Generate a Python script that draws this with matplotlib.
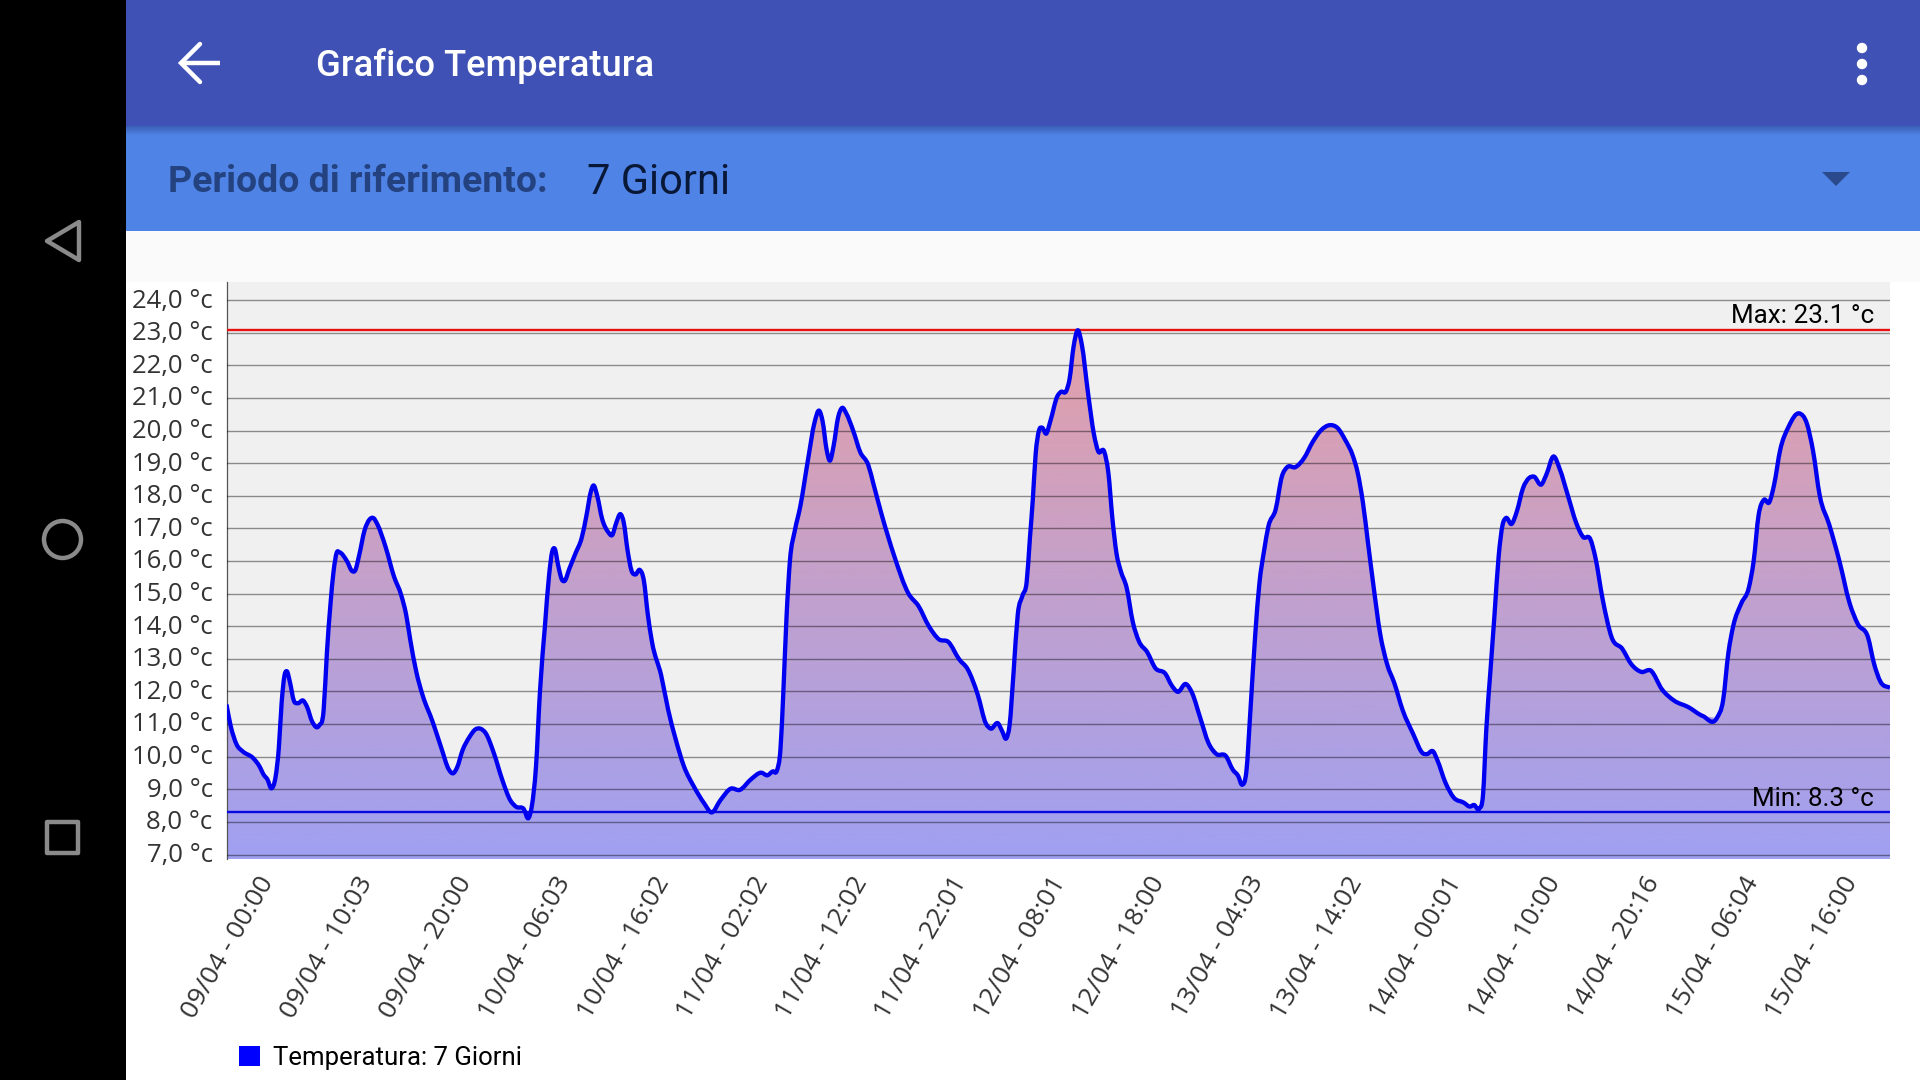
import numpy as np
import matplotlib
matplotlib.use('Agg')
import matplotlib.pyplot as plt
from matplotlib.patches import Rectangle, Polygon, Circle, Patch, PathPatch
from matplotlib.path import Path
from matplotlib.transforms import ScaledTranslation

# hours since 09/04 00:00
hours = [0, 0.41, 1.03, 1.65, 2.68, 3.3, 3.79, 4.12, 4.54, 4.95, 5.28, 5.57, 5.85, 6.1, 6.39, 6.8, 7.21, 7.75, 8.12, 8.66,
         9.36, 9.81, 10.14, 10.51, 10.8, 11.13, 11.42, 12.16, 12.7, 12.99, 13.4, 13.94, 14.43, 14.84, 15.25, 16.08, 16.9, 17.65, 18.14, 18.55,
         19.17, 19.79, 20.82, 21.65, 22.47, 22.88, 23.29, 23.83, 24.53, 25.15, 25.64, 26.18, 27.0, 27.83, 28.65, 29.27, 30.01, 30.51, 30.84, 31.25,
         31.66, 32.16, 32.57, 32.9, 33.15, 33.48, 33.89, 34.14, 34.63, 35.25, 35.87, 36.36, 36.78, 37.06, 37.44, 37.93, 38.55, 38.96, 39.37, 39.79,
         40.12, 40.49, 40.9, 41.31, 41.73, 42.14, 42.55, 42.96, 43.91, 44.61, 45.35, 46.18, 47.21, 48.24, 48.98,
         49.89, 50.92, 51.83, 52.98, 54.01, 54.63, 55.17, 55.58, 55.95, 56.24, 56.57, 56.9, 57.4, 57.93, 58.76, 59.37, 59.87, 60.2, 60.61, 60.94,
         61.31, 61.77, 62.18, 62.59, 63.29, 63.99, 64.82, 65.35, 66.18, 67.41, 68.86, 69.89, 70.92, 71.95, 72.9, 74.01, 74.84, 75.87, 76.69, 77.19,
         77.93, 78.34, 78.75, 79.08, 79.49, 79.91, 80.4, 80.81, 81.14, 81.43, 81.72, 82.05, 82.38, 82.79, 83.2, 83.9, 84.27, 84.81, 85.14, 85.55,
         85.97, 86.38, 87.0, 87.61, 88.03, 88.65, 89.06, 89.47, 89.88, 90.3, 90.91, 91.53, 92.15, 92.98, 93.8, 94.83, 95.45, 96.07, 96.89, 97.51,
         98.34, 99.16, 99.98, 100.93, 101.63, 102.17, 102.58, 103.0, 103.41, 103.9, 104.31, 104.81, 105.22, 105.96, 106.58, 107.12, 107.94, 108.85, 109.67, 110.5,
         111.44, 112.18, 113.01, 113.75, 114.24, 114.78, 115.27, 115.81, 116.51, 117.21, 117.95, 118.78, 119.81, 120.84, 121.25, 121.87, 122.28, 123.11, 123.93, 124.96,
         125.58, 125.99, 126.53, 126.9, 127.23, 127.64, 128.06, 128.47, 128.88, 129.21, 129.79, 130.32, 130.94, 131.56, 132.05, 132.8, 133.29, 134.03, 134.65, 135.48,
         136.3, 137.0, 137.74, 138.24, 138.98, 139.89, 140.96, 141.87, 142.9, 143.85, 144.96, 146.2, 147.64, 149.08, 150.52, 151.14, 151.68, 152.17, 152.99, 153.74,
         154.23, 154.73, 155.27, 155.8, 156.3, 156.91, 157.74, 158.85, 159.59, 160.21, 160.91, 161.86, 162.89, 163.92, 164.75, 165.78, 166.4, 167.02, 168]

temps = [11.6, 10.96, 10.37, 10.16, 9.96, 9.72, 9.43, 9.31, 9.03, 9.37, 10.25, 11.66, 12.48, 12.62, 12.31, 11.72, 11.64, 11.72, 11.54, 11.07,
         10.96, 11.43, 13.19, 14.71, 15.65, 16.26, 16.27, 16.0, 15.69, 15.71, 16.18, 16.94, 17.27, 17.32, 17.12, 16.42, 15.54, 14.95, 14.36, 13.6,
         12.6, 11.9, 11.07, 10.31, 9.6, 9.49, 9.67, 10.19, 10.6, 10.84, 10.86, 10.72, 10.11, 9.31, 8.67, 8.46, 8.4, 8.12, 8.49, 9.67,
         12.01, 14.01, 15.54, 16.3, 16.38, 15.89, 15.42, 15.39, 15.77, 16.24, 16.71, 17.41, 18.11, 18.32, 18.0, 17.3, 16.89, 16.8, 17.18, 17.44,
         17.18, 16.36, 15.71, 15.59, 15.73, 15.42, 14.36, 13.54, 12.48, 11.43, 10.55, 9.72, 9.08, 8.57, 8.29,
         8.67, 9.02, 8.98, 9.31, 9.51, 9.43, 9.55, 9.57, 10.25, 12.01, 14.36, 16.0, 16.94, 17.65, 19.17, 20.23, 20.61, 20.29, 19.41, 19.08,
         19.53, 20.41, 20.7, 20.53, 20.0, 19.35, 18.94, 18.35, 17.41, 16.18, 15.01, 14.62, 14.01, 13.6, 13.52, 12.98, 12.69, 11.9, 11.02, 10.86,
         11.02, 10.78, 10.56, 10.96, 12.6, 14.36, 14.95, 15.36, 16.71, 17.88, 19.29, 20.0, 20.09, 19.91, 20.29, 21.05, 21.19, 21.22, 21.58, 22.58,
         23.08, 22.64, 21.17, 19.88, 19.37, 19.35, 18.71, 17.3, 16.24, 15.71, 15.18, 14.13, 13.54, 13.21, 12.72, 12.54, 12.19, 11.99, 12.23, 11.96,
         11.19, 10.43, 10.08, 10.02, 9.6, 9.41, 9.14, 9.55, 11.43, 13.77, 15.3, 16.36, 17.06, 17.59, 18.59, 18.88, 18.88, 19.17, 19.64, 20.0,
         20.17, 20.09, 19.7, 19.23, 18.71, 17.77, 16.59, 15.3, 13.77, 12.84, 12.25, 11.43, 10.72, 10.1, 10.08, 10.16, 9.9, 9.2, 8.75, 8.59,
         8.47, 8.52, 8.41, 8.84, 10.84, 12.6, 14.36, 16.12, 17.12, 17.32, 17.14, 17.53, 18.24, 18.55, 18.59, 18.35, 18.65, 19.21, 18.82, 18.0,
         17.18, 16.74, 16.67, 16.12, 14.83, 13.66, 13.31, 12.84, 12.6, 12.64, 12.07, 11.72, 11.52, 11.25, 11.19, 11.72, 13.19, 14.01, 14.71, 15.18,
         16.0, 17.41, 17.88, 17.8, 18.35, 19.41, 20.11, 20.53, 20.23, 19.41, 18.0, 17.12, 16.0, 14.71, 14.07, 13.66, 12.84, 12.31, 12.11]

x_ticks = [0, 10, 20, 30, 40, 50, 60, 70, 80, 90, 100, 110, 120, 130, 140, 150, 160]
x_labels = ['09/04 - 00:00', '09/04 - 10:03', '09/04 - 20:00', '10/04 - 06:03', '10/04 - 16:02', '11/04 - 02:02',
            '11/04 - 12:02', '11/04 - 22:01', '12/04 - 08:01', '12/04 - 18:00', '13/04 - 04:03', '13/04 - 14:02',
            '14/04 - 00:01', '14/04 - 10:00', '14/04 - 20:16', '15/04 - 06:04', '15/04 - 16:00']
y_ticks = list(range(7, 25))
y_labels = ['%d,0 °c' % v for v in y_ticks]
temp_max = 23.1
temp_min = 8.3


def smooth_path(x, y):
    # cubic segments through every reading, like the app's cubic line mode
    x = np.array(x, dtype=float)
    y = np.array(y, dtype=float)
    slope = np.gradient(y, x)
    verts = [(x[0], y[0])]
    codes = [Path.MOVETO]
    for i in range(len(x) - 1):
        dx = (x[i + 1] - x[i]) / 3
        verts += [(x[i] + dx, y[i] + slope[i] * dx), (x[i + 1] - dx, y[i + 1] - slope[i + 1] * dx), (x[i + 1], y[i + 1])]
        codes += [Path.CURVE4, Path.CURVE4, Path.CURVE4]
    return Path(verts, codes)


W, H = 1920, 1080
fig = plt.figure(figsize=(W / 100, H / 100), dpi=100, facecolor='white')

# screen furniture, drawn in pixel coordinates
bg = fig.add_axes([0, 0, 1, 1], zorder=0)
bg.set_xlim(0, W)
bg.set_ylim(H, 0)
bg.axis('off')
bg.add_patch(Rectangle((126, 231), W - 126, 51, color='#FAFAFA', lw=0))
bg.add_patch(Rectangle((126, 126), W - 126, 105, color='#4F83E5', lw=0))
bg.add_patch(Rectangle((126, 0), W - 126, 126, color='#3F51B5', lw=0))
bg.add_patch(Rectangle((0, 0), 126, H, color='black', lw=0))
shadow = np.zeros((10, 1, 4))
shadow[:, :, :3] = (0.18, 0.25, 0.55)
shadow[:, 0, 3] = np.linspace(0.5, 0, 10)
bg.imshow(shadow, extent=[126, W, 136, 126], aspect='auto', zorder=2)
bg.set_xlim(0, W)
bg.set_ylim(H, 0)

bg.plot([181, 220], [63, 63], color='white', lw=3.2, solid_capstyle='butt')
bg.plot([200, 181, 200], [44, 63, 82], color='white', lw=3.2, solid_joinstyle='miter', solid_capstyle='round')
for dot_y in [48, 64, 80]:
    bg.add_patch(Circle((1862, dot_y), 5.2, color='white', lw=0))
bg.add_patch(Polygon([[1822, 172], [1850, 172], [1836, 186]], color='#2A4A8C', lw=0))

nav = '#8A8A8A'
bg.add_patch(Polygon([[47, 241], [79, 222], [79, 260]], fill=False, ec=nav, lw=3.2, joinstyle='round'))
bg.add_patch(Circle((62.5, 539.5), 18.5, fill=False, ec=nav, lw=3.2))
bg.add_patch(Rectangle((47, 822), 31, 31, fill=False, ec=nav, lw=3.2, joinstyle='round'))

bg.text(316, 66.5, 'Grafico Temperatura', family='Roboto', weight='medium', size=26.2, color='white', va='center')
bg.text(168, 182.5, 'Periodo di riferimento:', family='Roboto', weight='bold', size=26.9, color='#24427F', va='center')
bg.text(587, 182.5, '7 Giorni', family='Roboto', size=30, color='#0A1838', va='center')

# chart
left, right, top, bottom = 226.5, 1890, 282, 859.4
ax = fig.add_axes([left / W, 1 - bottom / H, (right - left) / W, (bottom - top) / H], zorder=1)
ax.set_facecolor('#F0F0F0')
y_lo, y_hi = 6.85, 24.56
ax.set_xlim(0, 168)
ax.set_ylim(y_lo, y_hi)

area = ax.fill_between(hours, temps, y_lo, color='none', lw=0)
top_col = np.array([228, 160, 168]) / 255
low_col = np.array([160, 160, 242]) / 255
t = np.linspace(0, 1, 256)[:, None, None]
grad = top_col[None, None, :] * (1 - t) + low_col[None, None, :] * t
im = ax.imshow(grad, extent=[0, 168, y_lo, temp_max], aspect='auto', origin='upper', zorder=1)
im.set_clip_path(area.get_paths()[0], transform=ax.transData)
ax.set_xlim(0, 168)
ax.set_ylim(y_lo, y_hi)

ax.set_yticks(y_ticks)
ax.set_yticklabels(y_labels, family='Open Sans', size=18.5, color='#333333')
ax.set_xticks(x_ticks)
ax.set_xticklabels(x_labels, family='Open Sans', size=19, rotation=60, ha='center', color='#333333')
ax.tick_params(axis='y', length=0, pad=10)
ax.tick_params(axis='x', length=0, pad=9)
# small nudges so the labels sit where the app puts them
for lab in ax.get_yticklabels():
    lab.set_transform(lab.get_transform() + ScaledTranslation(0, 2.2 / 100, fig.dpi_scale_trans))
for lab in ax.get_xticklabels():
    lab.set_transform(lab.get_transform() + ScaledTranslation(1.5 / 100, 0, fig.dpi_scale_trans))
ax.grid(axis='y', color='black', alpha=0.42, lw=1.0, zorder=2)
ax.set_axisbelow(False)
for side in ['top', 'right', 'bottom']:
    ax.spines[side].set_visible(False)
ax.spines['left'].set_color('#555555')
ax.spines['left'].set_linewidth(0.9)

ax.axhline(temp_max, color='#E81010', lw=1.7, zorder=3)
ax.axhline(temp_min, color='#0808E0', lw=1.7, zorder=3)
ax.add_patch(PathPatch(smooth_path(hours, temps), fill=False, ec='#0000F0', lw=3.1, zorder=4, joinstyle='round', capstyle='butt'))

blend = ax.get_yaxis_transform()
ax.annotate('Max: %.1f °c' % temp_max, xy=(1, temp_max), xycoords=blend, xytext=(-11.5, 4.5),
            textcoords='offset points', ha='right', va='baseline', family='Roboto', size=18.7, color='black', zorder=5)
ax.annotate('Min: %.1f °c' % temp_min, xy=(1, temp_min), xycoords=blend, xytext=(-11.5, 4.5),
            textcoords='offset points', ha='right', va='baseline', family='Roboto', size=18.7, color='black', zorder=5)

handle = Patch(color='#0000FF', lw=0, label='Temperatura: 7 Giorni')
fig.legend(handles=[handle], loc='center left', bbox_to_anchor=(239 / W, 1 - 1057.5 / H), borderaxespad=0, borderpad=0,
           frameon=False, prop={'family': 'Roboto', 'size': 18.5}, handlelength=0.82, handleheight=0.82, handletextpad=0.5)

fig.savefig('out.png', dpi=100)
